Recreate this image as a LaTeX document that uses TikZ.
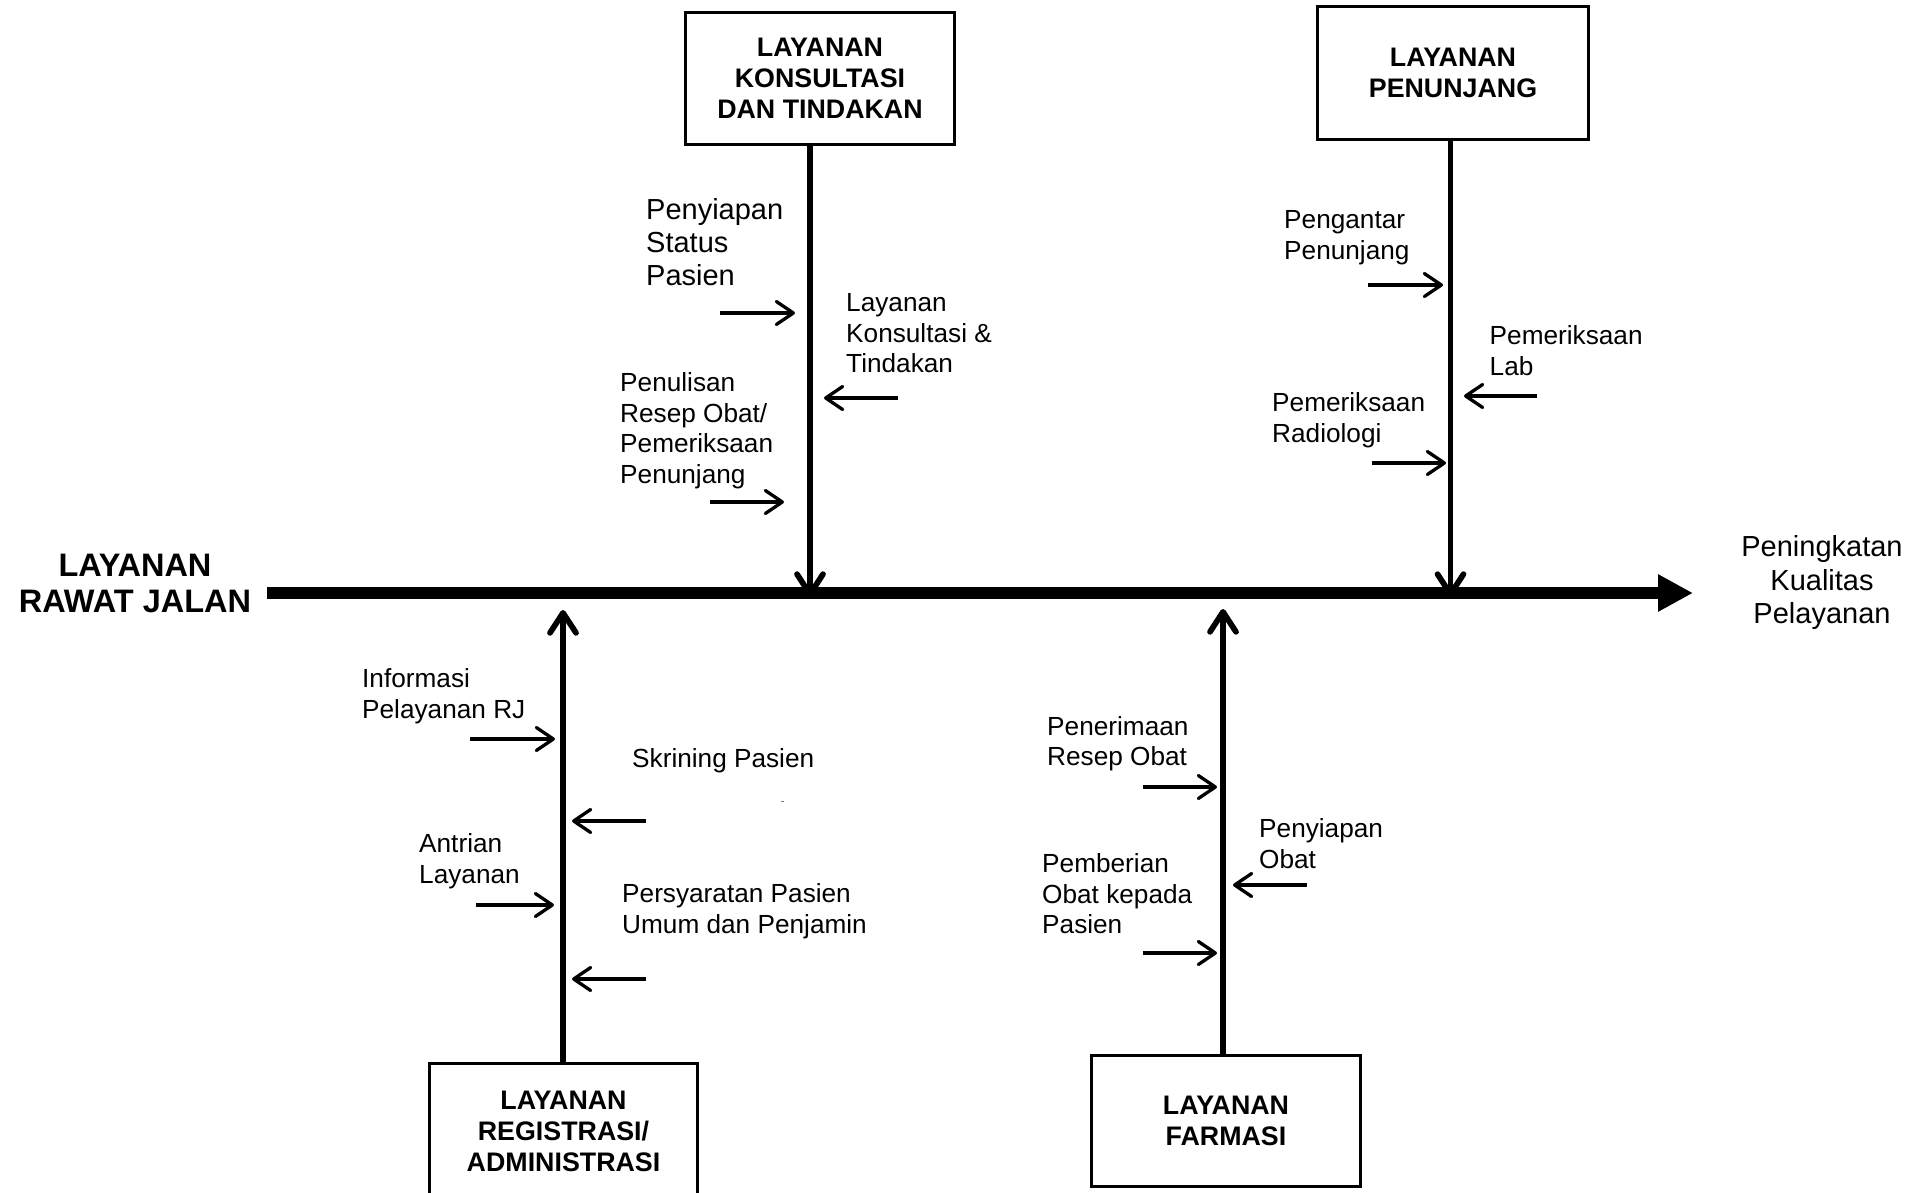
\documentclass[tikz,border=0pt]{standalone}
\usepackage{fontspec}
\setmainfont{Liberation Sans}
\usetikzlibrary{arrows.meta}
\begin{document}
\begin{tikzpicture}[x=1pt,y=-1pt,
  box/.style={draw, line width=2.8pt, align=center, inner sep=0pt, font=\fontsize{26.8}{31}\selectfont\bfseries},
  lbl/.style={anchor=north west, align=left, inner sep=0pt, font=\fontsize{26.2}{30.5}\selectfont},
  lblbig/.style={anchor=north west, align=left, inner sep=0pt, font=\fontsize{29}{33}\selectfont},
  bone/.style={line width=5.7pt, -{Straight Barb[length=20pt,width=26pt,round]}},
  sarr/.style={line width=3.3pt, -{Straight Barb[length=17pt,width=23pt,round]}},
  spine/.style={line width=12pt, -{Triangle[length=35pt,width=35pt]}}
]
\useasboundingbox (0,0) rectangle (1916,1193);
\clip (0,0) rectangle (1916,1193);

% title and effect
\node[align=center, inner sep=0pt, font=\fontsize{32.5}{36}\selectfont\bfseries] (title) at (135,583) {LAYANAN\\RAWAT JALAN};
\node[anchor=north, align=center, inner sep=0pt, font=\fontsize{29}{33.5}\selectfont] (effect) at (1822,535.6) {Peningkatan\\Kualitas\\Pelayanan};

% spine
\coordinate (sp0) at (267,593);
\coordinate (sp1) at (1693,593);
\draw[spine] (sp0) -- (sp1);

% category boxes
\node[box, minimum width=269pt, minimum height=132pt] (b1) at (820,78.5) {LAYANAN\\KONSULTASI\\DAN TINDAKAN};
\node[box, minimum width=271pt, minimum height=133pt] (b2) at (1453,73) {LAYANAN\\PENUNJANG};
\node[box, minimum width=268pt, minimum height=136pt] (b3) at (563.5,1131.5) {LAYANAN\\REGISTRASI/\\ADMINISTRASI};
\node[box, minimum width=269pt, minimum height=131pt] (b4) at (1226,1121) {LAYANAN\\FARMASI};

% bones
\coordinate (t1) at (810,597);
\coordinate (t2) at (1450.5,597);
\coordinate (t3) at (563,610);
\coordinate (t4) at (1223,609);
\draw[bone] (b1.south -| t1) -- (t1);
\draw[bone] (b2.south -| t2) -- (t2);
\draw[bone] (b3.north -| t3) -- (t3);
\draw[bone] (b4.north -| t4) -- (t4);

% branch 1 labels
\node[lblbig] (l11) at (646,198.6) {Penyiapan\\Status\\Pasien};
\node[lbl] (l12) at (846,293.6) {Layanan\\Konsultasi \&\\Tindakan};
\node[lbl] (l13) at (620,372.6) {Penulisan\\Resep Obat/\\Pemeriksaan\\Penunjang};
\draw[sarr] (720,313) coordinate (a11s) -- (795,313) coordinate (a11e);
\draw[sarr] (898,398) coordinate (a12s) -- (824,398) coordinate (a12e);
\draw[sarr] (710,502) coordinate (a13s) -- (784,502) coordinate (a13e);

% branch 2 labels
\node[lbl] (l21) at (1284,210.6) {Pengantar\\Penunjang};
\node[lbl] (l22) at (1489.5,325.6) {Pemeriksaan\\Lab};
\node[lbl] (l23) at (1272,392.6) {Pemeriksaan\\Radiologi};
\draw[sarr] (1368,285) coordinate (a21s) -- (1443,285) coordinate (a21e);
\draw[sarr] (1537,396) coordinate (a22s) -- (1464,396) coordinate (a22e);
\draw[sarr] (1372,463) coordinate (a23s) -- (1446,463) coordinate (a23e);

% branch 3 labels
\node[lbl] (l31) at (362,668.6) {Informasi\\Pelayanan RJ};
\node[lbl] (l32) at (632,748.2) {Skrining Pasien};
\node[lbl] (l33) at (419,833.6) {Antrian\\Layanan};
\node[lbl] (l34) at (622,883.6) {Persyaratan Pasien\\Umum dan Penjamin};
\draw[sarr] (470,739) coordinate (a31s) -- (555,739) coordinate (a31e);
\draw[sarr] (646,821) coordinate (a32s) -- (572,821) coordinate (a32e);
\draw[sarr] (476,905) coordinate (a33s) -- (554,905) coordinate (a33e);
\draw[sarr] (646,979) coordinate (a34s) -- (572,979) coordinate (a34e);
\draw[gray, line width=1pt] (781,801) coordinate (m0) -- (784,801) coordinate (m1);

% branch 4 labels
\node[lbl] (l41) at (1047,716) {Penerimaan\\Resep Obat};
\node[lbl] (l42) at (1259,818.6) {Penyiapan\\Obat};
\node[lbl] (l43) at (1042,853.6) {Pemberian\\Obat kepada\\Pasien};
\draw[sarr] (1143,787) coordinate (a41s) -- (1217,787) coordinate (a41e);
\draw[sarr] (1307,885) coordinate (a42s) -- (1233,885) coordinate (a42e);
\draw[sarr] (1143,953) coordinate (a43s) -- (1217,953) coordinate (a43e);
\end{tikzpicture}
\end{document}
